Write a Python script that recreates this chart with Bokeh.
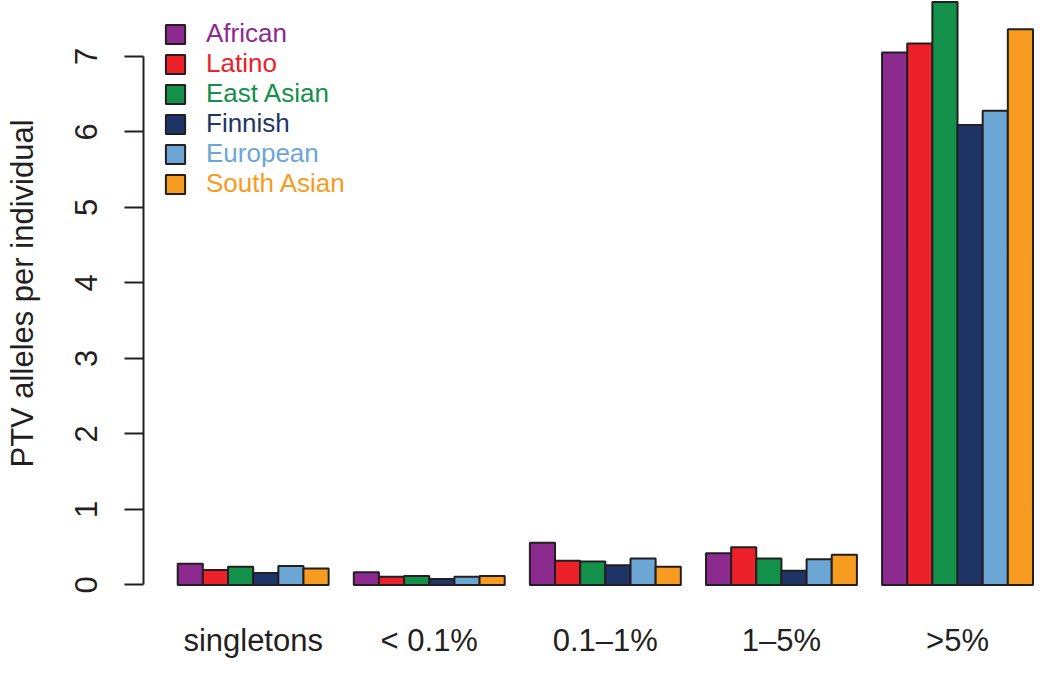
from bokeh.plotting import figure
from bokeh.models import Range1d, FixedTicker, Legend, LegendItem
from bokeh.embed import file_html
from bokeh.resources import INLINE

categories = ["singletons", "< 0.1%", "0.1\u20131%", "1\u20135%", ">5%"]
populations = ["African", "Latino", "East Asian", "Finnish", "European", "South Asian"]
colors = ["#8D2A8F", "#EC2129", "#139049", "#1F3567", "#6CA6D4", "#F79B21"]

african = [0.28, 0.17, 0.56, 0.42, 7.05]
latino = [0.20, 0.11, 0.32, 0.50, 7.17]
east_asian = [0.24, 0.12, 0.31, 0.35, 7.72]
finnish = [0.16, 0.08, 0.26, 0.19, 6.09]
european = [0.25, 0.11, 0.35, 0.34, 6.28]
south_asian = [0.22, 0.12, 0.24, 0.40, 7.36]
series = [african, latino, east_asian, finnish, european, south_asian]

y_ticks = [0, 1, 2, 3, 4, 5, 6, 7]

FONT = "Liberation Sans"
W, H = 1034, 662
BORDER_BOTTOM = 76
n_pop = len(populations)
group_step = n_pop + 1  # one empty bar-width between groups (R barplot beside=TRUE)

p = figure(width=W, height=H, output_backend="svg", toolbar_location=None,
           x_range=Range1d(-0.36, 35.06), y_range=Range1d(-0.02, 7.74),
           min_border_left=143, min_border_right=0, min_border_top=0,
           min_border_bottom=BORDER_BOTTOM)
p.outline_line_color = None
p.grid.visible = False
p.background_fill_color = "white"

renderers = []
for k, (name, col, vals) in enumerate(zip(populations, colors, series)):
    xs = [1.5 + group_step * g + k for g in range(len(categories))]
    r = p.vbar(x=xs, top=vals, bottom=0, width=1.0, fill_color=col,
               line_color="#231F20", line_width=2)
    renderers.append(r)

# x axis: category names under each group centre
centres = [1 + group_step * g + n_pop / 2 for g in range(len(categories))]
xa = p.xaxis[0]
xa.ticker = FixedTicker(ticks=centres)
xa.major_label_overrides = {c: lab for c, lab in zip(centres, categories)}
xa.axis_line_color = None
xa.major_tick_line_color = None
xa.minor_tick_line_color = None
xa.major_label_text_font = FONT
xa.major_label_text_font_size = "31px"
xa.major_label_text_color = "#231F20"
xa.major_label_standoff = 30

ya = p.yaxis[0]
ya.ticker = FixedTicker(ticks=y_ticks)
ya.bounds = (0, 7)
ya.axis_line_width = 2
ya.axis_line_color = "#231F20"
ya.major_tick_line_width = 2
ya.major_tick_line_color = "#231F20"
ya.major_tick_out = 19
ya.major_tick_in = 0
ya.minor_tick_line_color = None
ya.major_label_orientation = "vertical"
ya.major_label_text_font = FONT
ya.major_label_text_font_size = "31px"
ya.major_label_text_color = "#231F20"
ya.major_label_standoff = 27
ya.axis_label = "PTV alleles per individual"
ya.axis_label_text_font = FONT
ya.axis_label_text_font_size = "31px"
ya.axis_label_text_font_style = "normal"
ya.axis_label_text_color = "#231F20"
ya.axis_label_standoff = 33

# legend: one single-item legend per population so each label has its own colour
frame_h = H - BORDER_BOTTOM
row_h = 30
for k, (name, col, r) in enumerate(zip(populations, colors, renderers)):
    centre_from_top = 37 + row_h * k
    leg = Legend(items=[LegendItem(label=name, renderers=[r])],
                 location=(20, frame_h - centre_from_top - 12),
                 padding=0, margin=0, spacing=0,
                 glyph_width=24, glyph_height=24, label_height=24,
                 label_standoff=19,
                 label_text_font=FONT, label_text_font_size="26px",
                 label_text_color=col, label_text_baseline="middle",
                 border_line_color=None, background_fill_alpha=0)
    p.add_layout(leg)

open("out.html", "w").write(file_html(p, INLINE))
